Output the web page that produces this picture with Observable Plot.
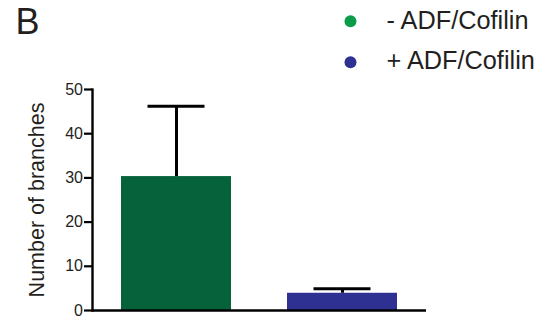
<!DOCTYPE html>
<html>
<head>
<meta charset="utf-8">
<script src="https://cdn.jsdelivr.net/npm/d3@7"></script>
<script src="https://cdn.jsdelivr.net/npm/@observablehq/plot@0.6"></script>
<style>
  html, body { margin: 0; padding: 0; background: #fff; }
  #chart svg { display: block; }
</style>
</head>
<body>
<div id="chart"></div>
<script>
// ---- data ----
const conditions = ["- ADF/Cofilin", "+ ADF/Cofilin"];
const means = [30.3, 3.9];
const sems = [15.9, 1.0];
const yTicks = [0, 10, 20, 30, 40, 50];
const panelLetter = "B";
const yLabel = "Number of branches";

// ---- styles ----
const barColors = ["#05623a", "#2e3192"];
const legendColors = ["#0b9c4a", "#2e3192"];
const ink = "#231f20";
const font = "'Liberation Sans', Arial, Helvetica, sans-serif";

const rows = conditions.map((c, i) => ({condition: c, mean: means[i], top: means[i] + sems[i]}));

const legendMarks = conditions.flatMap((c, i) => [
  Plot.dot([c], {frameAnchor: "top-left", dx: 258, dy: -68.3 + i * 41, r: 6, fill: legendColors[i], stroke: null}),
  Plot.text([c], {frameAnchor: "top-left", dx: 294, dy: -60.7 + i * 40, text: d => d, textAnchor: "start", lineAnchor: "bottom", fontSize: 25.3, fill: ink})
]);

const chart = Plot.plot({
  width: 557,
  height: 324,
  marginLeft: 92,
  marginRight: 131,
  marginTop: 89,
  marginBottom: 14,
  style: {fontFamily: font, color: ink, background: "#fff"},
  x: {domain: conditions, paddingInner: 0.336, paddingOuter: 0.171, axis: null},
  y: {domain: [0, 50], ticks: yTicks, axis: null},
  color: {domain: conditions, range: barColors},
  marks: [
    Plot.barY(rows, {x: "condition", y: "mean", fill: "condition"}),
    Plot.ruleX(rows, {x: "condition", y1: "mean", y2: "top", stroke: "#000", strokeWidth: 3}),
    Plot.tickY(rows, {x: "condition", y: "top", stroke: "#000", strokeWidth: 3, insetLeft: 26.5, insetRight: 26.5}),
    Plot.axisY({ticks: yTicks, tickSize: 8, tickPadding: 1.5, tickFormat: d => d, fontSize: 16, stroke: "#000", strokeWidth: 2.2, strokeOpacity: 1, fill: ink, label: null}),
    Plot.axisY({ticks: [], tickSize: 0, label: yLabel, labelAnchor: "center", labelArrow: "none", labelOffset: 64, fontSize: 21.5, fill: ink}),
    Plot.frame({anchor: "left", stroke: "#000", strokeWidth: 2.4}),
    Plot.ruleY([0], {stroke: "#000", strokeWidth: 2.4}),
    Plot.text([panelLetter], {frameAnchor: "top-left", dx: -77, dy: -56, text: d => d, textAnchor: "start", lineAnchor: "bottom", fontSize: 36, fill: ink}),
    ...legendMarks
  ]
});
document.getElementById("chart").append(chart);
</script>
</body>
</html>
